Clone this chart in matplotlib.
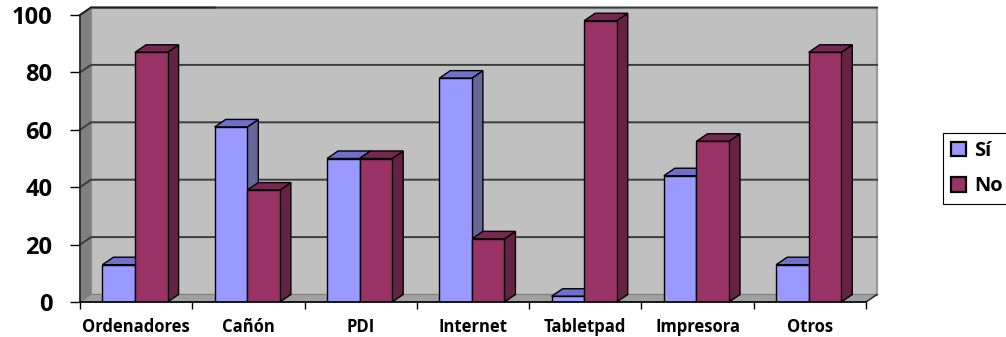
import matplotlib
matplotlib.use("Agg")
import matplotlib.pyplot as plt
import numpy as np
from matplotlib.patches import Patch, Polygon

categories = ["Ordenadores", "Cañón", "PDI", "Internet", "Tabletpad", "Impresora", "Otros"]
si = [13, 61, 50, 78, 2, 44, 13]
no = [87, 39, 50, 22, 98, 56, 87]
y_ticks = [0, 20, 40, 60, 80, 100]

W, H = 1006, 337
plt.rcParams["font.family"] = ["Open Sans", "DejaVu Sans"]
plt.rcParams["font.weight"] = "bold"

fig = plt.figure(figsize=(W / 100, H / 100), dpi=100)
# front plane of the fake 3D box, in pixels from the top left
left, right, top, bottom = 80, 866, 15, 302
ax = fig.add_axes([left / W, 1 - bottom / H, (right - left) / W, (bottom - top) / H])
ax.set_xlim(0, 7)
ax.set_ylim(0, 100)
for s in ax.spines.values():
    s.set_visible(False)
ax.patch.set_visible(False)

# depth of the box and of the bars, in data units
dx = 11 / 112.3
dy = 7.5 / 2.87
bar_w = 0.29


def poly(pts, color, edge="black", lw=1.0, z=1):
    ax.add_patch(Polygon(pts, closed=True, facecolor=color, edgecolor=edge,
                         linewidth=lw, zorder=z, clip_on=False))


# walls and floor
poly([(dx, dy), (7 + dx, dy), (7 + dx, 100 + dy), (dx, 100 + dy)], "#c0c0c0", "#9a9a9a", 1.6)
poly([(0, 0), (dx, dy), (dx, 100 + dy), (0, 100)], "#808080", "#808080", 0.8)
poly([(0, 0), (7, 0), (7 + dx, dy), (dx, dy)], "#a0a0a0", "#808080", 0.8)

# gridlines run along the side wall and then the back wall
for t in y_ticks:
    if t == 0:
        continue
    ax.plot([0, dx, 7 + dx], [t, t + dy, t + dy], color="#3c3c3c", lw=1.4, zorder=2, clip_on=False)
ax.plot([0, 0], [0, 100], color="#222222", lw=1.2, zorder=2, clip_on=False)
ax.plot([0, 7], [0, 0], color="black", lw=1.2, zorder=6, clip_on=False)
ax.plot([0, dx, 1.2], [100, 100 + dy, 100 + dy], color="#222222", lw=1.2, zorder=2, clip_on=False)
ax.plot([7, 7 + dx], [0, dy], color="#222222", lw=1.0, zorder=2, clip_on=False)

x = np.arange(len(categories)) + 0.49
series = [(si, x - bar_w, "#9999ff", "#7070cc", "#666699"),
          (no, x, "#993366", "#772850", "#662244")]
for vals, xs, front, top_c, side in series:
    for xi, v in zip(xs, vals):
        poly([(xi + bar_w, 0), (xi + bar_w + dx, dy), (xi + bar_w + dx, v + dy), (xi + bar_w, v)], side, z=3)
        poly([(xi, v), (xi + bar_w, v), (xi + bar_w + dx, v + dy), (xi + dx, v + dy)], top_c, z=3)
    ax.bar(xs, vals, width=bar_w, align="edge", color=front, edgecolor="black", linewidth=1.0, zorder=4)

ax.set_yticks(y_ticks)
ax.set_yticklabels([str(t) for t in y_ticks], fontsize=17, fontweight="bold")
ax.set_xticks(np.arange(0, 8))
ax.set_xticklabels([])
ax.tick_params(axis="y", length=7, width=1, pad=13)
ax.tick_params(axis="x", length=5, width=1)
for i, c in enumerate(categories):
    ax.annotate(c, (i + 0.5, 0), xytext=(0, -25), textcoords="offset pixels",
                ha="center", va="center", fontsize=12, fontweight="bold", annotation_clip=False)

handles = [Patch(facecolor="#9999ff", edgecolor="black", linewidth=1.6, label="Sí"),
           Patch(facecolor="#993366", edgecolor="black", linewidth=1.6, label="No")]
leg = fig.legend(handles=handles, loc="upper left", bbox_to_anchor=(943 / W, 1 - 133 / H),
                 frameon=True, fancybox=False, framealpha=1, edgecolor="black",
                 handlelength=0.75, handleheight=0.75, handletextpad=0.4, labelspacing=0.75,
                 borderaxespad=0, borderpad=0.4, prop={"weight": "bold", "size": 14.5})
leg.get_frame().set_linewidth(0.8)

fig.savefig("out.png", dpi=100)
